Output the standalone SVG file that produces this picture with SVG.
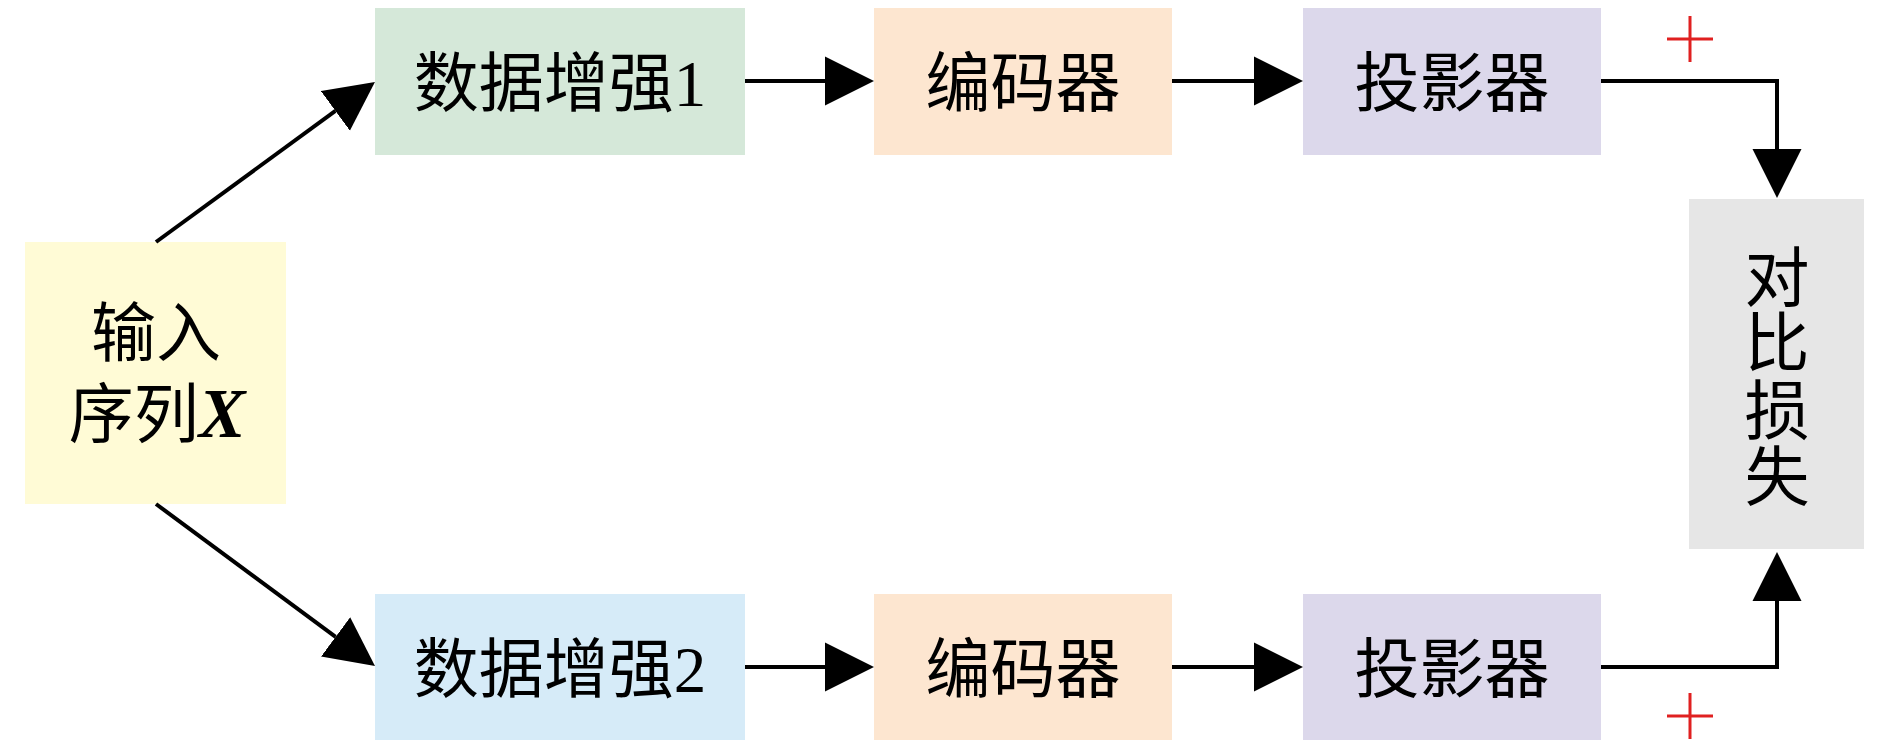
<svg xmlns="http://www.w3.org/2000/svg" width="1890" height="750" viewBox="0 0 1890 750">
<style>
  .t { font-family: "Liberation Serif", "Noto Sans CJK SC", serif; font-size: 65px; fill: #000; text-anchor: middle; }
  .c { fill: none; stroke: #000; stroke-width: 4; }
  .plus { stroke: #e02020; stroke-width: 3; fill: none; }
</style>
<defs>
  <marker id="ah" markerUnits="userSpaceOnUse" viewBox="0 -25 49 50" refX="0" refY="0" markerWidth="49" markerHeight="50" orient="auto">
    <path d="M0,-24.5 L49,0 L0,24.5 Z" fill="#000"/>
  </marker>
</defs>
<rect width="1890" height="750" fill="#fff"/>
<g id="input">
  <rect x="25" y="242" width="261" height="262" fill="#fffbd6"/>
  <text class="t" x="156" y="356">输入</text>
  <text class="t" x="157" y="437">序列<tspan font-weight="bold" font-style="italic" font-size="70px">X</tspan></text>
</g>
<g id="aug1">
  <rect x="375" y="8" width="370" height="147" fill="#d5e8d9"/>
  <text class="t" x="560" y="106">数据增强1</text>
</g>
<g id="enc1">
  <rect x="874" y="8" width="298" height="147" fill="#fde6d0"/>
  <text class="t" x="1023" y="106">编码器</text>
</g>
<g id="proj1">
  <rect x="1303" y="8" width="298" height="147" fill="#dcd8eb"/>
  <text class="t" x="1452" y="106">投影器</text>
</g>
<g id="aug2">
  <rect x="375" y="594" width="370" height="146" fill="#d6ebf8"/>
  <text class="t" x="560" y="692">数据增强2</text>
</g>
<g id="enc2">
  <rect x="874" y="594" width="298" height="146" fill="#fde6d0"/>
  <text class="t" x="1023" y="692">编码器</text>
</g>
<g id="proj2">
  <rect x="1303" y="594" width="298" height="146" fill="#dcd8eb"/>
  <text class="t" x="1452" y="692">投影器</text>
</g>
<g id="loss">
  <rect x="1689" y="199" width="175" height="350" fill="#e6e6e6"/>
  <text class="t" x="1777" y="301">对</text>
  <text class="t" x="1777" y="366">比</text>
  <text class="t" x="1777" y="434">损</text>
  <text class="t" x="1777" y="500">失</text>
</g>
<g id="connectors">
  <line class="c" x1="156" y1="242" x2="335.4" y2="110.9" marker-end="url(#ah)"/>
  <line class="c" x1="156" y1="504" x2="335.6" y2="636.9" marker-end="url(#ah)"/>
  <line class="c" x1="745" y1="81" x2="825" y2="81" marker-end="url(#ah)"/>
  <line class="c" x1="1172" y1="81" x2="1254" y2="81" marker-end="url(#ah)"/>
  <line class="c" x1="745" y1="667" x2="825" y2="667" marker-end="url(#ah)"/>
  <line class="c" x1="1172" y1="667" x2="1254" y2="667" marker-end="url(#ah)"/>
  <path class="c" d="M1601,81 H1777 V149" marker-end="url(#ah)"/>
  <path class="c" d="M1601,667 H1777 V601" marker-end="url(#ah)"/>
</g>
<g id="plus-top">
  <path class="plus" d="M1667,39 H1713 M1690,16 V62"/>
</g>
<g id="plus-bottom">
  <path class="plus" d="M1667,716 H1713 M1690,693 V739"/>
</g>
</svg>
